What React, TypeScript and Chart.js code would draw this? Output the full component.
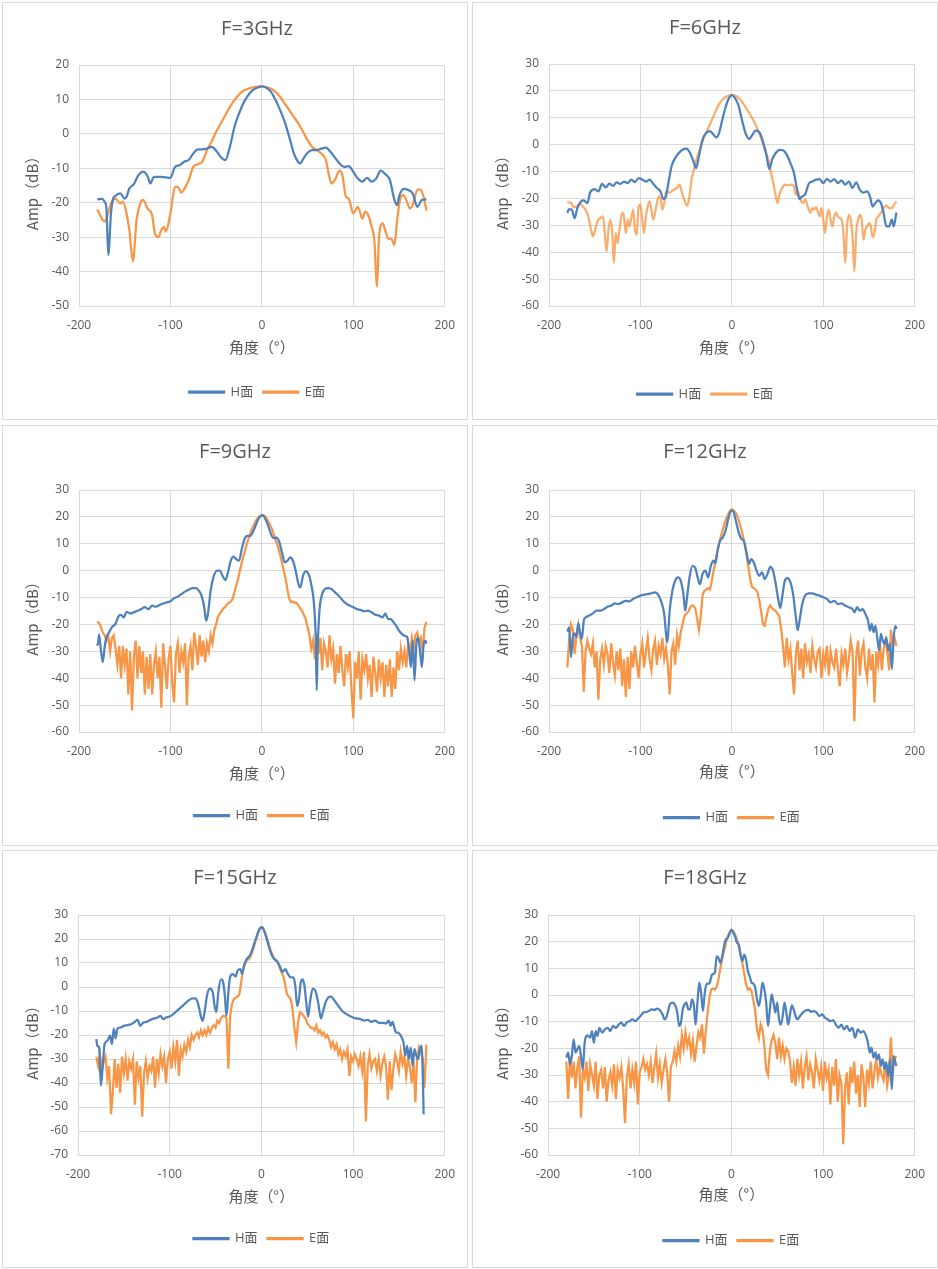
import React, { useEffect, useRef } from 'react';
import { Chart, registerables } from 'chart.js';

Chart.register(...registerables);

const BLUE = '#4F81BD';
const ORANGE = '#F79646';
const ORANGE_LIGHT = 'rgba(247,150,70,0.78)';
const TEXT = '#595959';
const GRID = '#D9D9D9';
const FONT = '"Open Sans", "Noto Sans CJK SC", sans-serif';
const CJK_FONT = '"Noto Sans CJK SC", "Open Sans", sans-serif';

Chart.defaults.font.family = FONT;
Chart.defaults.color = TEXT;

// 2 degree sampling used by the noisy E-plane traces (9 - 18 GHz)
const grid2 = Array.from({ length: 181 }, (_, i) => -180 + i * 2);

// ---- F = 3 GHz ----
const h3Ang = [-180, -175, -172, -170, -168, -165, -163, -160, -155, -150, -148, -145, -140, -135, -130, -125, -122, -118, -110, -100, -95, -90, -85, -80, -75, -70, -65, -60, -55, -50, -45, -40, -35, -30, -25, -20, -15, -10, -5, 0, 5, 10, 15, 20, 25, 30, 35, 40, 42, 45, 50, 55, 60, 65, 70, 75, 80, 85, 90, 95, 100, 105, 110, 115, 120, 125, 130, 135, 140, 145, 148, 150, 155, 160, 165, 170, 175, 180];
const h3Amp = [-19, -18.9, -19.7, -21.7, -35.2, -23, -19.2, -18, -17.3, -18.8, -18.3, -15.9, -14.6, -12, -11, -12.3, -14.4, -12.5, -12.5, -12.8, -9.6, -9.1, -8.1, -7.6, -5.7, -4.5, -4.5, -4.3, -3.8, -4.9, -6.7, -7.6, -3.8, 2, 5.9, 9, 11.2, 12.7, 13.4, 13.8, 13.4, 12.2, 9.8, 6.9, 3.5, -0.9, -5.7, -8.3, -8.6, -7.4, -5.5, -4.7, -4.7, -4.3, -4, -5.2, -6.9, -8.6, -9.6, -9.4, -11, -13, -13.9, -12.8, -13.9, -13, -10.7, -11.7, -13.4, -19.2, -20.7, -18.3, -16, -16.3, -17.3, -21.2, -19.2, -19];
const e3Ang = [-180, -178, -175, -172, -170, -165, -160, -155, -152, -148, -145, -141, -137, -133, -130, -125, -120, -117, -113, -110, -107, -105, -100, -95, -92, -88, -85, -80, -75, -70, -65, -60, -55, -50, -45, -40, -35, -30, -25, -20, -15, -10, 0, 10, 15, 20, 25, 30, 35, 40, 45, 50, 55, 60, 65, 70, 73, 76, 80, 85, 88, 92, 95, 100, 105, 110, 113, 117, 120, 123, 126, 128, 132, 135, 138, 142, 145, 148, 152, 155, 158, 162, 165, 170, 173, 177, 180];
const e3Amp = [-22, -23, -24.6, -25.5, -24.6, -20.2, -18.8, -20.2, -19.7, -23.1, -27.9, -37, -25, -20.2, -19.2, -21.7, -23.6, -28.9, -30, -27.9, -27, -28.4, -23.1, -15.4, -15.4, -17.1, -16.1, -13.4, -9.6, -8.8, -8.1, -4.7, -2.3, 0.6, 3, 5.4, 7.8, 9.8, 11.4, 12.5, 13.1, 13.5, 13.8, 13.1, 12.2, 10.7, 8.8, 6.9, 4.9, 3, 0.6, -1.8, -3.8, -4.7, -5.7, -7.6, -11.5, -14.4, -13.4, -10.7, -11.9, -18.3, -18.8, -23.1, -21.2, -24.6, -22.6, -24, -27, -30.8, -44.4, -30.8, -26, -28, -30.4, -30.6, -32.3, -25, -18.3, -17.8, -19.2, -21.7, -20.7, -16.3, -16.1, -18.3, -22.3];

// ---- F = 6 GHz ----
const h6Ang = [-180, -178, -175, -172, -169, -165, -162, -158, -155, -150, -146, -142, -138, -134, -130, -126, -122, -118, -114, -110, -106, -102, -98, -94, -90, -86, -82, -78, -75, -72, -70, -66, -62, -58, -54, -50, -46, -42, -39, -36, -32, -28, -24, -20, -17, -14, -10, -6, -3, 0, 3, 7, 11, 15, 19, 22, 26, 30, 34, 38, 41, 44, 48, 52, 56, 60, 64, 68, 71, 74, 77, 80, 84, 88, 92, 96, 100, 104, 108, 112, 116, 120, 124, 128, 132, 136, 140, 144, 148, 151, 154, 157, 160, 163, 166, 169, 172, 175, 177, 180];
const h6Amp = [-25.4, -24, -24.2, -27.3, -23.6, -21.1, -20.7, -21.7, -17.8, -16.5, -17.4, -14.6, -15.9, -14.5, -15.3, -14, -14.6, -13.7, -14.3, -13, -13.9, -12.4, -13, -13.7, -13, -14.5, -16.1, -17.4, -20.2, -19.2, -15.5, -8.1, -5, -3.1, -1.9, -1.5, -2.9, -6.2, -8.7, -4.3, 1.9, 4.3, 5, 3.7, 2.7, 4.3, 9.9, 14.9, 17.4, 18.4, 17.6, 14.9, 9.3, 4.3, 2.1, 3.4, 5.2, 4.6, 1.2, -4.3, -9.1, -5.6, -3.1, -1.9, -2.1, -3.7, -6.8, -10.6, -16.1, -20.2, -19.2, -18.6, -14.6, -13.7, -13, -12.8, -14.3, -12.7, -13.7, -12.8, -14.3, -13.3, -14.9, -13.7, -16.1, -14, -16.8, -17.8, -17.4, -19.2, -23, -21.7, -20.7, -21.7, -25.4, -30.4, -30.4, -27.9, -30.4, -25.2];
const e6Ang = [-180, -176, -173, -170, -166, -163, -160, -157, -154, -152, -150, -147, -144, -141, -139, -137, -135, -133, -131, -129, -127, -125, -123, -120, -118, -116, -114, -112, -110, -108, -106, -104, -102, -100, -98, -96, -94, -92, -90, -88, -86, -84, -82, -80, -78, -76, -74, -72, -68, -64, -60, -57, -55, -52, -49, -47, -44, -42, -40, -35, -30, -25, -20, -15, -10, -5, 0, 5, 10, 15, 20, 25, 30, 35, 40, 43, 46, 48, 50, 52, 55, 58, 62, 65, 68, 70, 72, 75, 78, 80, 83, 86, 88, 90, 92, 94, 96, 98, 100, 102, 104, 106, 108, 110, 112, 114, 116, 118, 120, 122, 124, 126, 128, 130, 132, 134, 136, 138, 140, 142, 144, 146, 148, 150, 152, 154, 156, 158, 160, 163, 166, 169, 172, 175, 178, 180];
const e6Amp = [-21.4, -21.7, -23.2, -23, -22, -23, -24.2, -26.7, -31.7, -34.1, -32.3, -28.6, -27.3, -26.7, -32.9, -39.7, -31.7, -27.9, -31.7, -44, -32.9, -36.6, -31.7, -25.4, -26.7, -32.9, -27.9, -30.4, -27.3, -24.2, -31.7, -33.5, -23, -22.3, -27.9, -32.9, -26.7, -23, -21.1, -24.2, -27.9, -25.4, -21.7, -19.2, -19.9, -24.2, -21.7, -17.4, -17.8, -16.8, -16.1, -14.9, -17.4, -20.5, -22.7, -20.5, -13, -10, -7, -1.5, 3.1, 6.8, 10.6, 14.5, 16.8, 18, 18.5, 18, 16.4, 14, 11.2, 8.1, 4.3, -0.6, -5.6, -10.6, -15.5, -19.2, -21.7, -18.6, -16.1, -14.9, -15.1, -14.9, -15.5, -18.6, -17.4, -20.5, -21.7, -20.2, -23, -25.4, -23.6, -24.2, -23.2, -24.8, -26.7, -23.6, -27.9, -32.9, -26.7, -24.2, -27.9, -30.4, -26.7, -25.4, -26.7, -27.3, -27.9, -32.9, -44, -30.4, -26.1, -27.9, -34.1, -47.2, -32.9, -27.9, -26.1, -27.9, -35.4, -31.7, -30.4, -29.2, -30.4, -34.4, -32.9, -27.9, -26.7, -25.4, -23.6, -22.6, -23.6, -23.6, -22, -21.1];

// ---- F = 9 GHz ----
const h9Ang = [-180, -179, -178, -176, -174, -172, -170, -167, -164, -160, -157, -154, -151, -148, -144, -140, -136, -132, -128, -124, -120, -116, -112, -108, -104, -100, -96, -92, -88, -84, -80, -76, -72, -69, -66, -63, -61, -59, -56, -53, -49, -46, -43, -40, -37, -34, -31, -28, -25, -22, -19, -16, -13, -10, -7, -4, -1, 1, 4, 7, 10, 13, 16, 19, 22, 25, 28, 31, 34, 37, 40, 42, 45, 48, 51, 54, 57, 59, 60, 61, 63, 66, 69, 72, 76, 80, 84, 88, 92, 96, 100, 104, 108, 112, 116, 120, 124, 128, 132, 135, 138, 141, 144, 147, 150, 153, 156, 159, 161, 163, 165, 167, 169, 171, 173, 175, 177, 179, 180];
const h9Amp = [-27.9, -26.6, -23.8, -29.7, -34, -28.5, -24.8, -22.9, -21, -19.8, -17.1, -16.4, -17.4, -15.3, -15.9, -15.5, -14.9, -14.3, -13.6, -14.3, -13, -13.4, -12.8, -12.2, -11.8, -11.4, -10.2, -9.7, -8.7, -7.8, -7.1, -6.5, -6.5, -7.4, -9.3, -13.6, -18.6, -16.1, -7.4, -2.5, 0, 0, -1.9, -3.5, -0.6, 3.7, 5.2, 4.3, 3.7, 8, 11.7, 12.9, 12.9, 14.2, 16.6, 19.1, 20.4, 20.6, 19.1, 16.6, 13.6, 12.1, 12.3, 10.8, 6.8, 3.1, 3.7, 4.9, 3.7, 0, -5, -6.2, -1.9, -0.3, -1.2, -5, -12.4, -26, -44.5, -29.7, -14.9, -8.7, -6.8, -6.5, -6.8, -8.1, -9.3, -10.9, -12.2, -13, -13.6, -14.3, -14.6, -15.1, -14.9, -15.5, -16.4, -16.7, -17.4, -15.9, -18, -18, -19.2, -20.5, -22.3, -23.5, -24.2, -24.8, -29.7, -35.9, -26, -40.8, -27.2, -24.8, -29.7, -35.9, -27.2, -26, -27.2];
const e9Amp = [
  -19, -19.5, -21, -23, -24, -26, -24, -30, -25, -24,
  -29, -35, -28, -40, -28, -35, -29, -46, -30, -52,
  -32, -26, -40, -28, -38, -30, -46, -32, -44, -31,
  -46, -35, -30, -40, -32, -51, -27, -35, -44, -33,
  -28, -42, -49, -31, -27, -38, -30, -34, -27, -50,
  -32, -28, -37, -23, -28, -35, -24, -32, -26, -34,
  -27, -30, -24, -27, -22, -20, -17, -16, -15, -14,
  -13.5, -12.5, -12, -11.5, -10.5, -8, -5.5, -3, 0, 3,
  5.5, 8, 10.5, 12.5, 14.5, 16, 17.5, 18.8, 19.8, 20.4,
  20.7, 20.5, 20, 19, 17.7, 16.3, 14.6, 12.6, 10.5, 8.5,
  5.8, 3, 0, -3, -7, -10.5, -11.8, -11.5, -12, -12,
  -13, -14, -15, -16.5, -18, -21, -24, -29, -26, -33,
  -23, -31, -25, -37, -27, -30, -36, -24, -33, -29,
  -42, -31, -38, -28, -37, -43, -31, -36, -30, -44,
  -55, -34, -40, -30, -48, -33, -37, -31, -40, -35,
  -47, -32, -38, -45, -33, -40, -34, -47, -35, -43,
  -33, -47, -36, -44, -30, -37, -29, -34, -30, -36,
  -27, -31, -25, -29, -24, -23, -27, -25, -30, -21,
  -19,
];

// ---- F = 12 GHz ----
const h12Ang = [-180, -178, -176, -174, -172, -170, -168, -166, -164, -162, -160, -156, -152, -148, -144, -140, -136, -132, -128, -124, -120, -116, -112, -108, -104, -100, -96, -92, -88, -84, -80, -77, -74, -72, -71, -70, -68, -65, -62, -59, -56, -53, -51, -49, -46, -43, -40, -37, -35, -32, -29, -26, -23, -20, -18, -16, -13, -10, -7, -4, -1, 1, 4, 7, 10, 13, 16, 19, 21, 24, 27, 30, 33, 36, 39, 42, 45, 48, 51, 53, 55, 58, 61, 64, 67, 70, 72, 74, 77, 80, 84, 88, 92, 96, 100, 104, 108, 112, 116, 120, 124, 128, 132, 134, 137, 140, 143, 146, 149, 151, 153, 155, 157, 159, 161, 163, 165, 167, 169, 171, 173, 175, 177, 179, 180];
const h12Amp = [-22.6, -21.1, -32.2, -24.8, -23.3, -24.8, -19.6, -22.9, -25.4, -18.6, -17.4, -16.7, -15.9, -14.9, -14.9, -14.3, -13.4, -13, -12.2, -12.4, -11.8, -11.2, -11.4, -10.5, -9.9, -9.3, -8.9, -8.7, -8.4, -8.1, -9.3, -11.8, -16.1, -23.5, -26.6, -24.8, -14.9, -7.4, -3.7, -2.5, -3.7, -8.7, -14.9, -9.9, -1.9, 1.8, 1, -3.1, -5, -1.2, 0, -2.5, 1.8, 3.7, 2.7, 6.8, 11.1, 12.3, 14.8, 19.1, 22.3, 22.3, 19.1, 14.8, 12, 11.1, 6.8, 2.5, 4.3, 3.1, 0, -1.9, -0.6, -3.1, -1.2, 1.4, 0, -5, -11.2, -13.9, -9.9, -3.7, -2.8, -4.3, -8.7, -17.4, -22.1, -18.6, -12.4, -9.3, -8.4, -8.4, -8.9, -9.3, -9.9, -10.5, -11.8, -11.2, -12.4, -12.2, -13, -13.6, -14.3, -15.5, -13.6, -14.9, -14.3, -16.1, -18.6, -22.3, -19.8, -22.9, -20.5, -24.8, -29.7, -23.5, -26, -27.2, -24.8, -29.7, -27.2, -36.5, -24.8, -20.5, -21.7];
const e12Amp = [
  -36, -26, -20, -22, -31, -24, -20, -25, -28, -45,
  -30, -26, -29, -31, -27, -36, -30, -48, -33, -29,
  -35, -28, -31, -38, -27, -34, -39, -30, -37, -29,
  -43, -33, -47, -32, -44, -30, -36, -28, -34, -40,
  -31, -27, -36, -30, -25, -33, -37, -29, -26, -35,
  -28, -31, -25, -33, -29, -35, -46, -30, -27, -35,
  -24, -28, -23, -20, -17, -16, -15.5, -14, -13, -13,
  -14, -18, -22, -17, -9, -7.5, -7, -6.5, -7, -4,
  0, 3.5, 7, 10, 12.8, 15.2, 17.4, 19.4, 21, 22.2,
  22.8, 22.5, 21.6, 20.2, 18.2, 15.8, 13, 10, 6, 1.5,
  -3, -6, -6.5, -7, -8, -11, -15, -20, -20.5, -17,
  -14, -13, -14, -14.5, -15, -16, -17, -22, -28, -36,
  -25, -33, -29, -38, -46, -31, -26, -37, -29, -40,
  -27, -34, -31, -38, -28, -33, -36, -30, -29, -40,
  -31, -35, -28, -39, -30, -34, -36, -29, -37, -43,
  -31, -35, -29, -38, -33, -26, -30, -56, -32, -26,
  -39, -30, -27, -36, -40, -29, -37, -31, -49, -30,
  -35, -27, -37, -29, -26, -30, -37, -22, -28, -25,
  -28,
];

// ---- F = 15 GHz ----
const h15Ang = [-180, -179, -177, -175, -173, -171, -168, -165, -163, -161, -159, -157, -154, -150, -146, -142, -138, -135, -132, -129, -125, -121, -117, -113, -110, -107, -104, -100, -96, -92, -88, -84, -80, -76, -72, -70, -68, -66, -64, -62, -59, -56, -53, -51, -49, -47, -44, -42, -40, -38, -36, -34, -31, -28, -26, -23, -21, -19, -16, -13, -11, -8, -5, -3, -1, 1, 3, 5, 8, 11, 14, 17, 20, 23, 26, 29, 32, 35, 37, 39, 41, 43, 45, 47, 49, 51, 53, 56, 59, 62, 65, 67, 70, 73, 76, 80, 84, 88, 92, 96, 100, 104, 108, 112, 116, 120, 124, 128, 132, 136, 139, 141, 143, 145, 147, 149, 151, 153, 155, 157, 159, 161, 163, 165, 167, 169, 171, 173, 175, 176, 177];
const h15Amp = [-21.7, -24.5, -25.2, -41.1, -32.8, -23.8, -22.4, -20.3, -23.8, -17.3, -21.4, -17.3, -16.9, -16.2, -15.9, -15.5, -14.5, -13.7, -16.2, -14.9, -14.5, -13.7, -13.1, -12.7, -12, -13.4, -12.7, -12.3, -11.3, -9.9, -8.6, -7.2, -5.8, -4.8, -4.7, -5.8, -8.6, -12.3, -14.1, -10.6, -3, -0.7, -2.3, -7.9, -10.4, -2.3, 3.2, 2.5, -3, -12, -2.3, 4.3, 5.4, 4.4, 6.8, 7.5, 5.4, 8.8, 11.6, 12.9, 14.3, 17.8, 21.2, 23.3, 24.7, 25, 23.3, 21.2, 17.1, 13.6, 11.6, 10.8, 8.8, 6.3, 7.4, 5.4, 4, 4, 0.5, -7.9, -5.1, 1.8, 3.2, 0.5, -6.5, -12.3, -6.5, -0.7, -1.6, -6.5, -13.1, -10.6, -6.5, -4.4, -4, -5.8, -7.9, -9.9, -11.1, -12, -12.7, -13.1, -13.4, -14, -13.7, -14.5, -14, -14.9, -14.9, -15.2, -14, -16.2, -14.5, -16.9, -19, -19, -19.7, -21, -23.1, -28.6, -24.5, -30, -25.2, -32.8, -25.9, -28.6, -30, -25.9, -24.5, -35, -53];
const e15Amp = [
  -29, -33, -28, -35, -31, -29, -38, -33, -53, -44,
  -30, -42, -32, -44, -29, -36, -30, -39, -31, -34,
  -30, -49, -31, -38, -33, -54, -36, -31, -38, -33,
  -35, -29, -42, -30, -36, -28, -33, -29, -40, -30,
  -27, -34, -25, -31, -22, -37, -26, -29, -24, -27,
  -22, -25, -20, -22, -20, -19, -21, -18, -20, -18,
  -20, -17, -19, -17, -16, -17, -14, -15, -13, -12,
  -12, -13, -34, -12, -7, -5, -4.5, -4, -3, 2,
  7, 9.5, 11, 11.5, 12.5, 14.5, 17, 19.5, 22, 24,
  25, 24.5, 23, 20.5, 18, 15.5, 13.5, 12, 11, 10,
  8, 6, 4.5, 1, -3, -4, -5, -9, -17, -23,
  -15, -10.5, -11, -12, -13, -15, -16, -17, -17, -18,
  -16, -19, -18, -20, -19, -21, -20, -22, -25, -23,
  -26, -24, -28, -26, -30, -27, -29, -26, -37, -29,
  -31, -28, -30, -33, -29, -35, -27, -56, -33, -28,
  -34, -31, -30, -35, -30, -37, -32, -29, -33, -47,
  -31, -43, -34, -28, -31, -35, -27, -32, -29, -37,
  -30, -33, -40, -31, -48, -29, -25, -27, -30, -42,
  -24,
];

// ---- F = 18 GHz ----
const h18Ang = [-180, -178, -176, -174, -172, -170, -168, -166, -164, -162, -160, -157, -154, -152, -150, -148, -146, -144, -141, -138, -135, -132, -129, -126, -123, -120, -117, -114, -111, -108, -105, -102, -99, -96, -93, -90, -87, -84, -81, -78, -75, -73, -71, -69, -67, -64, -61, -59, -57, -55, -53, -51, -49, -47, -45, -43, -41, -39, -37, -35, -33, -31, -29, -27, -24, -21, -18, -16, -14, -12, -10, -8, -6, -4, -2, 0, 2, 4, 6, 8, 10, 12, 14, 16, 18, 20, 22, 24, 26, 28, 30, 32, 34, 36, 38, 40, 42, 44, 46, 48, 50, 52, 54, 56, 58, 60, 62, 64, 66, 68, 70, 72, 75, 78, 81, 84, 87, 90, 93, 96, 99, 102, 105, 108, 111, 114, 117, 120, 123, 126, 129, 132, 135, 138, 141, 144, 147, 149, 151, 153, 155, 157, 159, 161, 163, 165, 167, 169, 171, 173, 175, 177, 179, 180];
const h18Amp = [-23.5, -21.6, -26, -22.9, -16.6, -21.6, -20.4, -19.1, -22.9, -27.8, -17.9, -15.1, -16, -13.5, -17.9, -13.5, -15.4, -12.3, -14.1, -12.9, -12.3, -13.5, -11.6, -12.3, -11.1, -10.4, -11.6, -10.2, -9.8, -9.1, -9.8, -8.9, -7.9, -6.6, -6.4, -6, -5.4, -5.6, -5.1, -5.6, -7.3, -9.1, -8.5, -6, -3.5, -2.9, -4.1, -6.6, -11.6, -10.4, -5.4, -3.5, -2.9, -5.4, -5.4, -1.6, -3.5, -11.1, -2.9, 4.6, 0.8, -6, 0.8, 4.2, 4.3, 7.7, 8.3, 14.5, 13.9, 12, 14.5, 18.3, 20.8, 21.4, 23, 24.5, 23.5, 22, 19.7, 18.9, 15.1, 12.7, 15.1, 13.3, 8.9, 7, 4.6, 4.3, 2.7, -1.6, -4.1, -0.4, 4.6, 2.1, -2.9, -11.6, -5.4, 0.2, -2.9, -6.6, -2.9, -9.1, -11.1, -7.9, -2.9, -6.6, -11.1, -7.3, -3.9, -5.4, -7.9, -9.1, -7.9, -6.6, -5.8, -5.6, -6.3, -6, -6.6, -7.9, -7.3, -8.5, -9.1, -9.8, -9.4, -11.1, -12.3, -11.1, -12.9, -11.6, -13.5, -12.3, -16, -12.9, -14.1, -13.5, -15.4, -17.9, -21.6, -19.7, -23.5, -21.6, -24.1, -22.3, -26.6, -24.1, -27.8, -25.3, -30.3, -24.1, -35.3, -22.9, -25.3, -26.6];
const e18Amp = [
  -25, -39, -23, -31, -25, -35, -27, -23, -46, -28,
  -31, -25, -36, -26, -30, -34, -25, -39, -30, -28,
  -35, -27, -40, -32, -29, -34, -26, -39, -28, -31,
  -27, -35, -48, -31, -26, -35, -28, -33, -25, -41,
  -29, -27, -24, -28, -26, -30, -25, -33, -27, -22,
  -31, -26, -33, -28, -24, -29, -40, -27, -25, -21,
  -25, -19, -23, -15, -20, -14, -19, -16, -22, -17,
  -25, -19, -14, -16, -11, -22, -14, -7, -1, 2,
  2.5, 2, 3, 6, 10, 13.5, 16.5, 19.5, 21.8, 23.5,
  24.4, 24, 22.8, 21, 18.5, 15.5, 12, 8, 4, 2,
  2.5, 1.5, -2, -6, -13, -16, -11, -13, -19, -28,
  -30, -21, -17, -15, -18, -24, -16, -23, -19, -24,
  -20, -21, -25, -33, -27, -34, -24, -30, -25, -35,
  -27, -23, -32, -26, -29, -35, -24, -28, -32, -27,
  -36, -25, -31, -28, -41, -27, -34, -24, -40, -30,
  -33, -56, -35, -29, -41, -27, -33, -25, -37, -30,
  -42, -26, -31, -42, -28, -33, -25, -35, -29, -24,
  -31, -27, -30, -32, -25, -34, -30, -16, -29, -24,
  -23,
];

interface PanelSpec {
  title: string;
  yMin: number;
  yMax: number;
  hAng: number[];
  hAmp: number[];
  eAng: number[];
  eAmp: number[];
  eColor: string;
  eSmooth: boolean;
  box: { left: number; top: number; width: number; height: number };
  area: { left: number; right: number; top: number; bottom: number };
  titleX: number;
  titleY: number;
  legendY: number;
  xTitleY: number;
  legendFull: boolean;
}

const PANELS: PanelSpec[] = [
  {
    title: 'F=3GHz', yMin: -50, yMax: 20, hAng: h3Ang, hAmp: h3Amp, eAng: e3Ang, eAmp: e3Amp,
    eColor: ORANGE, eSmooth: true,
    box: { left: 2, top: 2, width: 466, height: 418 },
    area: { left: 76, right: 445, top: 62, bottom: 303 },
    titleX: 254, titleY: 26, legendY: 389, xTitleY: 344.7, legendFull: true,
  },
  {
    title: 'F=6GHz', yMin: -60, yMax: 30, hAng: h6Ang, hAmp: h6Amp, eAng: e6Ang, eAmp: e6Amp,
    eColor: ORANGE_LIGHT, eSmooth: true,
    box: { left: 472, top: 2, width: 466, height: 418 },
    area: { left: 76, right: 445, top: 61, bottom: 303 },
    titleX: 232, titleY: 25.3, legendY: 391, xTitleY: 344.7, legendFull: true,
  },
  {
    title: 'F=9GHz', yMin: -60, yMax: 30, hAng: h9Ang, hAmp: h9Amp, eAng: grid2, eAmp: e9Amp,
    eColor: ORANGE, eSmooth: false,
    box: { left: 2, top: 425, width: 466, height: 421 },
    area: { left: 76, right: 444, top: 64, bottom: 306 },
    titleX: 232, titleY: 26.3, legendY: 389.7, xTitleY: 347.3, legendFull: false,
  },
  {
    title: 'F=12GHz', yMin: -60, yMax: 30, hAng: h12Ang, hAmp: h12Amp, eAng: grid2, eAmp: e12Amp,
    eColor: ORANGE, eSmooth: false,
    box: { left: 472, top: 425, width: 466, height: 421 },
    area: { left: 76, right: 444, top: 64, bottom: 306 },
    titleX: 232, titleY: 26.3, legendY: 391.7, xTitleY: 345.7, legendFull: false,
  },
  {
    title: 'F=15GHz', yMin: -70, yMax: 30, hAng: h15Ang, hAmp: h15Amp, eAng: grid2, eAmp: e15Amp,
    eColor: ORANGE, eSmooth: false,
    box: { left: 2, top: 850, width: 466, height: 418 },
    area: { left: 75, right: 444, top: 64, bottom: 304 },
    titleX: 232, titleY: 27.3, legendY: 387.7, xTitleY: 345, legendFull: false,
  },
  {
    title: 'F=18GHz', yMin: -60, yMax: 30, hAng: h18Ang, hAmp: h18Amp, eAng: grid2, eAmp: e18Amp,
    eColor: ORANGE, eSmooth: false,
    box: { left: 472, top: 850, width: 466, height: 418 },
    area: { left: 75, right: 444, top: 64, bottom: 304 },
    titleX: 232, titleY: 27.3, legendY: 389.7, xTitleY: 343.3, legendFull: false,
  },
];

// rotated y-axis title, drawn at a fixed x so it does not depend on layout padding
const yTitlePlugin = {
  id: 'yTitle',
  afterDraw(chart: any, _args: any, opts: any) {
    const { ctx, chartArea } = chart;
    ctx.save();
    ctx.translate(opts.x, (chartArea.top + chartArea.bottom) / 2 + opts.dy);
    ctx.rotate(-Math.PI / 2);
    ctx.font = `15px ${CJK_FONT}`;
    ctx.fillStyle = TEXT;
    ctx.textAlign = 'center';
    ctx.textBaseline = 'middle';
    ctx.fillText(opts.text, 0, 0);
    ctx.restore();
  },
};

const Panel: React.FC<{ spec: PanelSpec }> = ({ spec }) => {
  const canvasRef = useRef<HTMLCanvasElement>(null);

  useEffect(() => {
    if (!canvasRef.current) return;
    const cw = spec.box.width - 2;
    const ch = spec.box.height - 2;
    const rightGap = cw - spec.area.right;
    const padLeft = Math.max(0, 2 * spec.titleX - cw);
    const titleTop = spec.titleY - 12;
    const legendTop = spec.legendY - 16.5;
    const xHeight = legendTop - spec.area.bottom;
    const padBottom = ch - legendTop - 33;

    const chart = new Chart(canvasRef.current, {
      type: 'line',
      data: {
        datasets: [
          {
            label: 'H面',
            data: spec.hAng.map((x, i) => ({ x, y: spec.hAmp[i] })),
            borderColor: BLUE,
            backgroundColor: BLUE,
            borderWidth: 2.25,
            pointRadius: 0,
            tension: 0.4,
            cubicInterpolationMode: 'monotone',
          },
          {
            label: 'E面',
            data: spec.eAng.map((x, i) => ({ x, y: spec.eAmp[i] })),
            borderColor: spec.eColor,
            backgroundColor: spec.eColor,
            borderWidth: 2.25,
            pointRadius: 0,
            tension: spec.eSmooth ? 0.4 : 0,
            cubicInterpolationMode: spec.eSmooth ? 'monotone' : 'default',
          },
        ],
      },
      options: {
        animation: false,
        responsive: true,
        maintainAspectRatio: false,
        layout: { padding: { left: padLeft, right: 0, top: 0, bottom: padBottom } },
        plugins: {
          title: {
            display: true,
            text: spec.title,
            color: TEXT,
            font: { size: 20, weight: 'normal' },
            padding: { top: titleTop, bottom: spec.area.top - 24 - titleTop },
          },
          legend: {
            position: 'bottom',
            fullSize: spec.legendFull,
            labels: { boxWidth: 35, boxHeight: 1, padding: 10, color: TEXT, font: { size: 13 } },
          },
          tooltip: { enabled: false },
          yTitle: { text: 'Amp（dB）', x: 29, dy: 4 },
        } as any,
        scales: {
          x: {
            type: 'linear',
            min: -200,
            max: 200,
            ticks: { stepSize: 100, color: TEXT, padding: 12, font: { size: 12 } },
            grid: { color: GRID, drawTicks: false },
            border: { color: GRID },
            title: {
              display: true,
              text: '角度（°）',
              color: TEXT,
              font: { size: 15, family: CJK_FONT },
              padding: { top: 0, bottom: legendTop - 9 - spec.xTitleY },
            },
            afterFit: (s: any) => {
              s.height = xHeight;
            },
          },
          y: {
            min: spec.yMin,
            max: spec.yMax,
            ticks: { stepSize: 10, color: TEXT, padding: 10, font: { size: 12 } },
            grid: { color: GRID, drawTicks: false },
            border: { color: GRID },
            afterFit: (s: any) => {
              s.width = spec.area.left - padLeft;
            },
          },
          // empty right-hand box: keeps the plot's right edge where the picture has it
          yRight: {
            position: 'right',
            display: true,
            grid: { display: false, drawTicks: false },
            border: { display: false },
            ticks: { display: false },
            afterFit: (s: any) => {
              s.width = rightGap;
            },
          },
        },
      },
      plugins: [yTitlePlugin],
    });

    return () => {
      chart.destroy();
    };
  }, [spec]);

  return (
    <div
      style={{
        position: 'absolute',
        left: spec.box.left,
        top: spec.box.top,
        width: spec.box.width,
        height: spec.box.height,
        boxSizing: 'border-box',
        border: '1px solid #D9D9D9',
        background: '#fff',
      }}
    >
      <div style={{ position: 'relative', width: '100%', height: '100%' }}>
        <canvas ref={canvasRef}></canvas>
      </div>
    </div>
  );
};

export default function App() {
  return (
    <div style={{ position: 'absolute', left: 0, top: 0, width: 938, height: 1269, background: '#fff' }}>
      {PANELS.map((p) => (
        <Panel key={p.title} spec={p} />
      ))}
    </div>
  );
}
